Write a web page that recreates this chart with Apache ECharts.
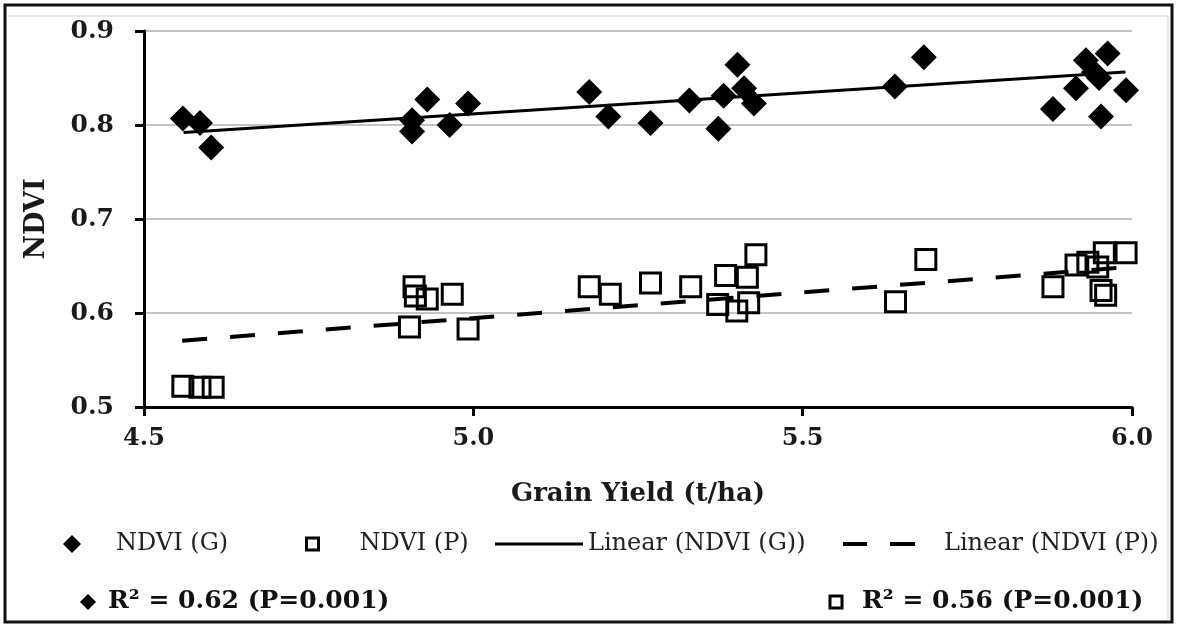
<!DOCTYPE html>
<html>
<head>
<meta charset="utf-8">
<title>NDVI vs Grain Yield</title>
<script src="https://cdn.jsdelivr.net/npm/echarts/dist/echarts.min.js"></script>
<style>
  html, body { margin: 0; padding: 0; background: #fff; }
  #chart { width: 1178px; height: 625px; }
</style>
</head>
<body>
<div id="chart"></div>
<script>
// Grain yield (t/ha) of each plot, with NDVI at two growth stages
const yieldG = [4.559, 4.585, 4.602, 4.907, 4.907, 4.930, 4.964, 4.992, 5.176, 5.205,
                5.269, 5.328, 5.372, 5.380, 5.401, 5.411, 5.426, 5.640, 5.684, 5.880,
                5.915, 5.930, 5.942, 5.950, 5.953, 5.963, 5.991];
const ndviG  = [0.807, 0.802, 0.776, 0.805, 0.793, 0.827, 0.800, 0.823, 0.835, 0.809,
                0.802, 0.826, 0.796, 0.831, 0.864, 0.839, 0.823, 0.841, 0.872, 0.817,
                0.839, 0.869, 0.856, 0.850, 0.809, 0.876, 0.837];

const yieldP = [4.559, 4.585, 4.605, 4.910, 4.912, 4.930, 4.968, 4.903, 4.992, 5.176,
                5.208, 5.269, 5.330, 5.371, 5.383, 5.400, 5.416, 5.418, 5.429, 5.641,
                5.687, 5.880, 5.915, 5.933, 5.948, 5.953, 5.958, 5.960, 5.991];
const ndviP  = [0.522, 0.521, 0.521, 0.628, 0.618, 0.615, 0.620, 0.585, 0.583, 0.628,
                0.620, 0.632, 0.628, 0.609, 0.640, 0.602, 0.638, 0.611, 0.662, 0.612,
                0.657, 0.628, 0.651, 0.654, 0.649, 0.624, 0.664, 0.619, 0.664];

// Fitted linear trends (end points)
const trendG = [[4.56, 0.792], [5.99, 0.8565]];
const trendP = [[4.558, 0.5705], [5.99, 0.6486]];

// Axis ticks
const xTicks = ['4.5', '5.0', '5.5', '6.0'];
const yTicks = ['0.5', '0.6', '0.7', '0.8', '0.9'];

const seriesNames = ['NDVI (G)', 'NDVI (P)', 'Linear (NDVI (G))', 'Linear (NDVI (P))'];
const statsG = 'R\u00B2 = 0.62 (P=0.001)';
const statsP = 'R\u00B2 = 0.56 (P=0.001)';

const pair = (xs, ys) => xs.map((x, i) => [x, ys[i]]);

const SERIF = '"DejaVu Serif", "Liberation Serif", serif';
const tickFmt = (list) => (v) => {
  const s = v.toFixed(1);
  return list.indexOf(s) >= 0 ? s : '';
};

const chart = echarts.init(document.getElementById('chart'), null, { renderer: 'canvas' });

const legendText = (padLeft) => ({
  fontFamily: SERIF, fontSize: 24, color: '#222', padding: [0, 0, 0, padLeft]
});

chart.setOption({
  backgroundColor: '#fff',
  animation: false,
  grid: { left: 144, right: 46, top: 31, bottom: 218, containLabel: false },
  xAxis: {
    type: 'value', min: 4.5, max: 6.0, interval: 0.5,
    name: 'Grain Yield (t/ha)', nameLocation: 'middle', nameGap: 74,
    nameTextStyle: { fontFamily: SERIF, fontWeight: 'bold', fontSize: 26, color: '#1a1a1a' },
    axisLine: { show: true, lineStyle: { color: '#000', width: 3 } },
    axisTick: { show: true, length: 9, lineStyle: { color: '#000', width: 3 } },
    axisLabel: { margin: 20, fontFamily: SERIF, fontWeight: 'bold', fontSize: 24,
                 color: '#1a1a1a', formatter: tickFmt(xTicks) },
    splitLine: { show: false }
  },
  yAxis: {
    type: 'value', min: 0.5, max: 0.9, interval: 0.1,
    name: 'NDVI', nameLocation: 'middle', nameGap: 94, nameRotate: 90,
    nameTextStyle: { fontFamily: SERIF, fontWeight: 'bold', fontSize: 27, color: '#1a1a1a' },
    axisLine: { show: true, lineStyle: { color: '#000', width: 3 } },
    axisTick: { show: true, length: 9, lineStyle: { color: '#000', width: 3 } },
    axisLabel: { margin: 30, fontFamily: SERIF, fontWeight: 'bold', fontSize: 25,
                 color: '#1a1a1a', formatter: tickFmt(yTicks) },
    splitLine: { show: true, lineStyle: { color: '#c4c4c4', width: 2 } }
  },
  legend: [
    { left: 58, top: 527, data: [{ name: seriesNames[0], icon: 'diamond',
        itemStyle: { color: '#000', borderWidth: 0 } }],
      itemWidth: 18, itemHeight: 18, textStyle: legendText(30) },
    { left: 300, top: 527, data: [{ name: seriesNames[1], icon: 'rect',
        itemStyle: { color: '#fff', borderColor: '#000', borderWidth: 3 } }],
      itemWidth: 12, itemHeight: 12, textStyle: legendText(36) },
    { left: 490, top: 527, data: [{ name: seriesNames[2], icon: 'rect',
        itemStyle: { color: '#000', borderWidth: 0 } }],
      itemWidth: 88, itemHeight: 3, textStyle: legendText(0) },
    { left: 838, top: 527, data: [{ name: seriesNames[3],
        icon: 'path://M0,0h24v4h-24z M47,0h25v4h-25z',
        itemStyle: { color: '#000', borderWidth: 0 } }],
      itemWidth: 72, itemHeight: 4, textStyle: legendText(24) }
  ],
  series: [
    {
      name: seriesNames[2], type: 'line', data: trendG, z: 2,
      symbol: 'none', showSymbol: false, silent: true,
      lineStyle: { color: '#000', width: 3, type: 'solid' },
      itemStyle: { color: '#000' }
    },
    {
      name: seriesNames[3], type: 'line', data: trendP, z: 2,
      symbol: 'none', showSymbol: false, silent: true,
      lineStyle: { color: '#000', width: 4, type: [25, 23] },
      itemStyle: { color: '#000' }
    },
    {
      name: seriesNames[0], type: 'scatter', data: pair(yieldG, ndviG), z: 3,
      symbol: 'diamond', symbolSize: 26,
      itemStyle: { color: '#000', opacity: 1 }
    },
    {
      name: seriesNames[1], type: 'scatter', data: pair(yieldP, ndviP), z: 3,
      symbol: 'rect', symbolSize: 20,
      itemStyle: { color: 'rgba(255,255,255,0)', borderColor: '#000', borderWidth: 3, opacity: 1 }
    }
  ],
  graphic: [
    // outer frame
    { type: 'rect', shape: { x: 5, y: 5, width: 1167, height: 617 },
      style: { fill: 'none', stroke: '#111', lineWidth: 3 }, z: 10 },
    { type: 'line', shape: { x1: 8, y1: 16, x2: 1168, y2: 16 },
      style: { stroke: '#e2e2e2', lineWidth: 1.5 }, z: 10 },
    { type: 'line', shape: { x1: 1168, y1: 16, x2: 1168, y2: 620 },
      style: { stroke: '#e2e2e2', lineWidth: 1.5 }, z: 10 },
    // regression statistics
    { type: 'polygon', shape: { points: [[88, 594], [96, 602], [88, 610], [80, 602]] },
      style: { fill: '#000' }, z: 10 },
    { type: 'text', left: 108, top: 589,
      style: { text: statsG, font: 'bold 25px ' + SERIF, fill: '#111' }, z: 10 },
    { type: 'rect', shape: { x: 830, y: 596, width: 12, height: 12 },
      style: { fill: '#fff', stroke: '#000', lineWidth: 3 }, z: 10 },
    { type: 'text', left: 862, top: 589,
      style: { text: statsP, font: 'bold 25px ' + SERIF, fill: '#111' }, z: 10 }
  ]
});
</script>
</body>
</html>
